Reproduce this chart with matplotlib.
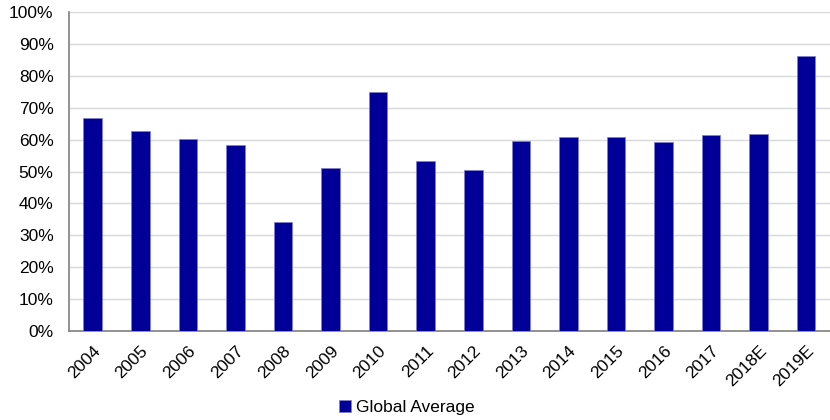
import matplotlib.pyplot as plt
from matplotlib.ticker import PercentFormatter

plt.rcParams['font.family'] = ['Liberation Sans', 'DejaVu Sans']

# data
years = ["2004", "2005", "2006", "2007", "2008", "2009", "2010", "2011",
         "2012", "2013", "2014", "2015", "2016", "2017", "2018E", "2019E"]
global_avg = [66.8, 62.7, 60.3, 58.3, 34.2, 51.1, 75.0, 53.2,
              50.5, 59.7, 60.9, 60.9, 59.4, 61.4, 61.7, 86.1]

fig = plt.figure(figsize=(8.3, 4.2), dpi=100)
ax = fig.add_axes([0.083, 0.212, 0.917, 0.759])

ax.bar(range(len(years)), global_avg, width=0.39, color="#000099",
       edgecolor="#7f7fcc", linewidth=0.5, label="Global Average", zorder=3)

ax.set_xlim(-0.5, len(years) - 0.5)
ax.set_ylim(0, 100)
ax.set_yticks(range(0, 101, 10))
ax.yaxis.set_major_formatter(PercentFormatter(decimals=0))
ax.set_xticks(range(len(years)))
ax.set_xticklabels(years, rotation=45, ha="right", rotation_mode="anchor")
ax.tick_params(axis="both", length=0, labelsize=12.5, colors="#000000")
ax.tick_params(axis="x", pad=9)
ax.tick_params(axis="y", pad=11)

ax.grid(axis="y", color="#d9d9d9", linewidth=1, zorder=0)
for s in ["top", "right"]:
    ax.spines[s].set_visible(False)
for s in ["left", "bottom"]:
    ax.spines[s].set_color("#808080")
    ax.spines[s].set_linewidth(1.2)

fig.legend(loc="lower center", bbox_to_anchor=(0.49, -0.025), frameon=False,
           fontsize=12.5, handlelength=0.7, handleheight=0.7, handletextpad=0.3)

fig.savefig("out.png", dpi=100)
